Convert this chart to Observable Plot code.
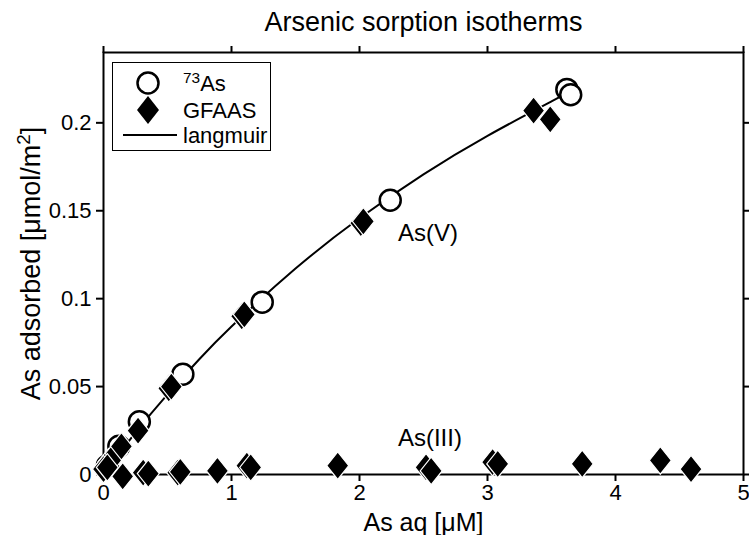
<!DOCTYPE html>
<html><head><meta charset="utf-8">
<script src="https://cdn.jsdelivr.net/npm/d3@7"></script>
<script src="https://cdn.jsdelivr.net/npm/@observablehq/plot@0.6"></script>
<style>
body{margin:0;background:#fff;}
#wrap{position:relative;width:749px;height:535px;font-family:"Liberation Sans",Arial,sans-serif;}
#legend{position:absolute;left:112px;top:62px;}
</style></head><body><div id="wrap"></div>
<script>
// ---- text ----
const title = "Arsenic sorption isotherms";
const xLabel = "As aq [μM]";
const yLabel = "As adsorbed [μmol/m^2]";
const xTicks = [0, 1, 2, 3, 4, 5];
const yTicks = [0, 0.05, 0.1, 0.15, 0.2];
const legendLabels = ["^73As", "GFAAS", "langmuir"];
const annotLabels = ["As(V)", "As(III)"];
const annotX = [2.30, 2.30];
const annotY = [0.137, 0.0205];

// ---- As(V), 73As radiotracer (open circles) ----
const asV_73As_x = [0.03, 0.12, 0.28, 0.62, 1.24, 2.24, 3.62, 3.65];
const asV_73As_y = [0.005, 0.016, 0.030, 0.057, 0.098, 0.156, 0.219, 0.216];

// ---- As(V), GFAAS (filled diamonds) ----
const asV_gfaas_x = [0.00, 0.04, 0.10, 0.14, 0.27, 0.51, 0.53, 1.08, 1.10, 2.01, 2.03, 3.36, 3.49];
const asV_gfaas_y = [0.003, 0.007, 0.012, 0.016, 0.025, 0.049, 0.050, 0.090, 0.091, 0.143, 0.144, 0.207, 0.202];

// ---- As(III), GFAAS (filled diamonds) ----
const asIII_gfaas_x = [0.00, 0.03, 0.15, 0.31, 0.35, 0.58, 0.60, 0.89, 1.12, 1.15, 1.83, 2.52, 2.56, 3.04, 3.08, 3.74, 4.35, 4.59];
const asIII_gfaas_y = [0.003, 0.004, -0.001, 0.001, 0.0005, 0.001, 0.0015, 0.002, 0.005, 0.004, 0.005, 0.004, 0.002, 0.007, 0.006, 0.006, 0.008, 0.003];

// ---- Langmuir fit curve ----
const langmuir_x = [0, 0.25, 0.5, 0.75, 1, 1.5, 2, 2.5, 3, 3.5, 3.65];
const langmuir_y = [0, 0.0238, 0.0456, 0.0657, 0.0842, 0.1171, 0.1457, 0.1707, 0.1926, 0.2122, 0.2180];

const zip = (xs, ys) => xs.map((x, i) => ({x, y: ys[i]}));
const circles = zip(asV_73As_x, asV_73As_y);
const diamondsV = zip(asV_gfaas_x, asV_gfaas_y);
const diamondsIII = zip(asIII_gfaas_x, asIII_gfaas_y);
const curve = zip(langmuir_x, langmuir_y);
const annots = annotLabels.map((label, i) => ({label, x: annotX[i], y: annotY[i]}));

const tallDiamond = {
  draw(ctx, size) {
    const r = Math.sqrt(size / Math.PI);
    const w = r, h = r * 1.25;
    ctx.moveTo(0, -h); ctx.lineTo(w, 0); ctx.lineTo(0, h); ctx.lineTo(-w, 0); ctx.closePath();
  }
};

const FONT = "'Liberation Sans', Arial, sans-serif";
const plot = Plot.plot({
  width: 749, height: 535,
  marginLeft: 103, marginRight: 6, marginTop: 52, marginBottom: 61,
  style: {fontFamily: FONT, fontSize: "22px", color: "#000", background: "#fff", overflow: "visible"},
  x: {domain: [0, 5]},
  y: {domain: [0, 0.24]},
  marks: [
    Plot.axisX({anchor: "bottom", ticks: xTicks, tickSize: 7, tickPadding: 3, tickFormat: d => String(d), label: null, strokeWidth: 2, fontSize: 22}),
    Plot.axisX({anchor: "top", ticks: xTicks, tickSize: 7, tickFormat: () => "", label: null, strokeWidth: 2}),
    Plot.axisY({anchor: "left", ticks: yTicks, tickSize: 7, tickPadding: 5, tickFormat: d => String(d), label: null, strokeWidth: 2, fontSize: 22}),
    Plot.axisY({anchor: "right", ticks: yTicks, tickSize: 7, tickFormat: () => "", label: null, strokeWidth: 2}),
    Plot.frame({stroke: "#000", strokeWidth: 2}),
    Plot.line(curve, {x: "x", y: "y", stroke: "#000", strokeWidth: 2, curve: "natural"}),
    Plot.dot(circles, {x: "x", y: "y", r: 10.5, stroke: "#000", strokeWidth: 2.5, fill: "#fff"}),
    Plot.dot(diamondsV, {x: "x", y: "y", r: 11, symbol: tallDiamond, fill: "#000", stroke: "#fff", strokeWidth: 1.2}),
    Plot.dot(diamondsIII, {x: "x", y: "y", r: 11, symbol: tallDiamond, fill: "#000", stroke: "#fff", strokeWidth: 1.2}),
    Plot.text(annots, {x: "x", y: "y", text: "label", textAnchor: "start", fontSize: 24, fill: "#000"}),
    Plot.text([title], {frameAnchor: "top", dy: -30, lineAnchor: "middle", textAnchor: "middle", fontSize: 27, fill: "#000"}),
    Plot.text([xLabel], {frameAnchor: "bottom", dy: 48, lineAnchor: "middle", textAnchor: "middle", fontSize: 25, fill: "#000"}),
    Plot.text([yLabel], {frameAnchor: "left", dx: -72, rotate: -90, lineAnchor: "middle", textAnchor: "middle", fontSize: 27, fill: "#000"})
  ]
});
const wrap = document.getElementById("wrap");
wrap.appendChild(plot);

// force tick labels to 22px
plot.querySelectorAll('g[aria-label*="axis"] text').forEach(t => {
  t.style.fontSize = "22px";
  t.setAttribute("font-size", 22);
  t.setAttribute("fill", "#000");
});

// superscripts written as ^NN
function applySup(el) {
  const t = el.textContent;
  const m = t.match(/^(.*?)\^(\d+)(.*)$/);
  if (!m) return;
  const ns = "http://www.w3.org/2000/svg";
  el.textContent = "";
  el.appendChild(document.createTextNode(m[1]));
  const sup = document.createElementNS(ns, "tspan");
  sup.setAttribute("baseline-shift", "super");
  sup.setAttribute("font-size", "0.7em");
  sup.textContent = m[2];
  el.appendChild(sup);
  if (m[3]) el.appendChild(document.createTextNode(m[3]));
}
plot.querySelectorAll("text").forEach(applySup);

// legend
const ns = "http://www.w3.org/2000/svg";
const lg = document.createElementNS(ns, "svg");
lg.setAttribute("id", "legend");
lg.setAttribute("width", 160);
lg.setAttribute("height", 90);
lg.style.fontFamily = FONT;
const rowY = [21, 48, 73];
let html = `<rect x="0.5" y="0.5" width="158" height="88" fill="#fff" stroke="#000" stroke-width="1"/>`;
html += `<circle cx="36" cy="${rowY[0]}" r="10.5" fill="#fff" stroke="#000" stroke-width="2.5"/>`;
html += `<path d="M36,${rowY[1]-14}L47,${rowY[1]}L36,${rowY[1]+14}L25,${rowY[1]}Z" fill="#000"/>`;
html += `<line x1="11" x2="65" y1="${rowY[2]}" y2="${rowY[2]}" stroke="#000" stroke-width="2"/>`;
legendLabels.forEach((lab, i) => {
  html += `<text x="71" y="${rowY[i]}" dy="0.35em" font-size="22" fill="#000">${lab}</text>`;
});
lg.innerHTML = html;
lg.querySelectorAll("text").forEach(applySup);
wrap.appendChild(lg);
</script>
</body></html>
